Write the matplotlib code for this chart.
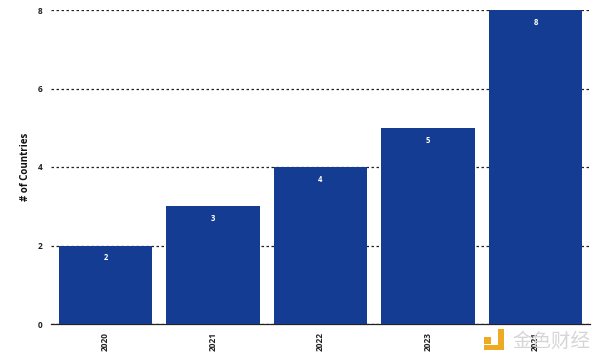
import numpy as np
import matplotlib
matplotlib.use('Agg')
import matplotlib.pyplot as plt
from matplotlib.patches import Rectangle

years = ['2020', '2021', '2022', '2023', '2021']
countries = [2, 3, 4, 5, 8]
y_ticks = [0, 2, 4, 6, 8]

plt.rcParams['font.family'] = ['Open Sans', 'DejaVu Sans']

fig = plt.figure(figsize=(6, 3.61), dpi=100)
ax = fig.add_axes([51/600, 1-324/361, 539/600, 314/361])

x = np.arange(len(years))
ax.grid(axis='y', color='#222222', linestyle=(0, (2, 2)), linewidth=0.9)
ax.set_axisbelow(True)
bars = ax.bar(x, countries, width=0.868, color='#143c92', zorder=3)

for xi, v in zip(x, countries):
    ax.annotate(str(v), (xi, v), xytext=(0, -9), textcoords='offset points',
                ha='center', va='center', color='white', fontsize=5.5,
                fontweight='bold', zorder=4)

ax.set_xlim(-0.507, 4.507)
ax.set_ylim(0, 8)
ax.set_yticks(y_ticks)
ax.set_xticks(x)
ax.set_xticklabels(years, rotation=90, fontsize=6, fontweight='bold', color='#222222')
ax.tick_params(axis='both', length=0)
ax.tick_params(axis='x', pad=6)
ax.tick_params(axis='y', pad=6)
for t in ax.get_yticklabels():
    t.set_fontsize(6)
    t.set_fontweight('bold')
    t.set_color('#222222')
ax.set_ylabel('# of Countries', fontsize=7, fontweight='bold', color='#111111', labelpad=5)

for s in ['top', 'right', 'left']:
    ax.spines[s].set_visible(False)
ax.spines['bottom'].set_color('#222222')
ax.spines['bottom'].set_linewidth(0.9)

# watermark
for (px, py, w, h) in [(484, 337, 7, 7), (498, 329, 6, 16), (484, 345, 20, 5)]:
    fig.add_artist(Rectangle((px/600, 1-(py+h)/361), w/600, h/361,
                             transform=fig.transFigure, color='#eeaa22', lw=0))
fig.text(551/600, 1-341/361, '金色财经', family=['Noto Sans CJK SC', 'DejaVu Sans'],
         fontsize=14, color='#d6d6d6', ha='center', va='center', zorder=0)

fig.savefig('out.png', dpi=100)
